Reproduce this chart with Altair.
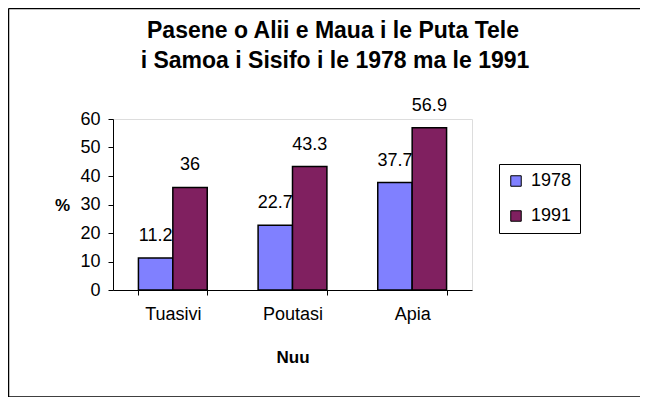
import altair as alt
import pandas as pd

regions = ["Tuasivi", "Poutasi", "Apia"]
years = ["1978", "1991"]
values_1978 = [11.2, 22.7, 37.7]
values_1991 = [36, 43.3, 56.9]
title_lines = ["Pasene o Alii e Maua i le Puta Tele", "i Samoa i Sisifo i le 1978 ma le 1991"]
colors = ["#8080FF", "#802060"]

rows = []
for r, a, b in zip(regions, values_1978, values_1991):
    rows.append({"Nuu": r, "Tausaga": years[0], "value": a})
    rows.append({"Nuu": r, "Tausaga": years[1], "value": b})
df = pd.DataFrame(rows)

FONT = "Liberation Sans"
W, H = 359, 171

x_enc = alt.X(
    "Nuu:N",
    sort=regions,
    scale=alt.Scale(paddingInner=0.425, paddingOuter=0.2125),
    axis=alt.Axis(
        title="Nuu", labelAngle=0, tickBand="extent", tickSize=5,
        labelPadding=24, labelBaseline="alphabetic", labelFontSize=18,
        titleFontSize=17, titleFontWeight="bold", titleY=72, titleBaseline="alphabetic",
        domainColor="black", tickColor="black", labelColor="black", titleColor="black",
        labelFont=FONT, titleFont=FONT,
    ),
)
y_axis = alt.Axis(
    title="%", values=[0, 10, 20, 30, 40, 50, 60], tickCount=7, labelOverlap=False,
    tickSize=5, labelPadding=8,
    labelFontSize=18, grid=False, titleAngle=0, titleX=-51, titleY=86,
    titleAlign="center", titleBaseline="middle", titleFontSize=17, titleFontWeight="bold",
    domainColor="black", tickColor="black", labelColor="black", titleColor="black",
    labelFont=FONT, titleFont=FONT,
)
y_enc = alt.Y("value:Q", scale=alt.Scale(domain=[0, 60]), axis=y_axis)

base = alt.Chart(df).encode(x=x_enc, xOffset=alt.XOffset("Tausaga:N", sort=years))

bars = base.mark_bar(stroke="black", strokeWidth=1.5).encode(
    y=y_enc,
    color=alt.Color(
        "Tausaga:N",
        sort=years,
        scale=alt.Scale(domain=years, range=colors),
        legend=alt.Legend(
            title=None, orient="none", legendX=386, legendY=45, padding=8,
            strokeColor="black", fillColor="white", symbolType="square", symbolSize=110,
            symbolStrokeColor="black", symbolStrokeWidth=1, labelFontSize=18,
            labelFont=FONT, labelColor="black", rowPadding=17, labelOffset=6,
        ),
    ),
)

labels = base.mark_text(
    baseline="alphabetic", dy=-17, fontSize=18, font=FONT, color="black"
).encode(
    y=y_enc,
    text=alt.Text("value:Q", format="~g"),
)

title1 = alt.Chart().mark_text(
    fontSize=23, font=FONT, fontWeight="bold", color="black", baseline="alphabetic", align="center"
).encode(x=alt.value(220), y=alt.value(-81), text=alt.value(title_lines[0]))
title2 = alt.Chart().mark_text(
    fontSize=23, font=FONT, fontWeight="bold", color="black", baseline="alphabetic", align="center"
).encode(x=alt.value(222), y=alt.value(-51), text=alt.value(title_lines[1]))

border_left = alt.Chart().mark_rule(color="black", strokeWidth=1.5).encode(
    x=alt.value(-104.5), y=alt.value(-110.5), y2=alt.value(278)
)
border_top = alt.Chart().mark_rule(color="black", strokeWidth=1.5).encode(
    x=alt.value(-104.5), x2=alt.value(540), y=alt.value(-110.5)
)
border_bottom = alt.Chart().mark_rule(color="black", strokeWidth=1.5).encode(
    x=alt.value(-104.5), x2=alt.value(540), y=alt.value(278)
)

chart = alt.layer(bars, labels, title1, title2, border_left, border_top, border_bottom).properties(
    width=W,
    height=H,
    autosize=alt.AutoSizeParams(type="none"),
    padding={"left": 105, "top": 111, "right": 168, "bottom": 107},
).configure_view(stroke=None).configure(background="white")

chart.save("out.html", embed_options={"renderer": "svg", "actions": False})
